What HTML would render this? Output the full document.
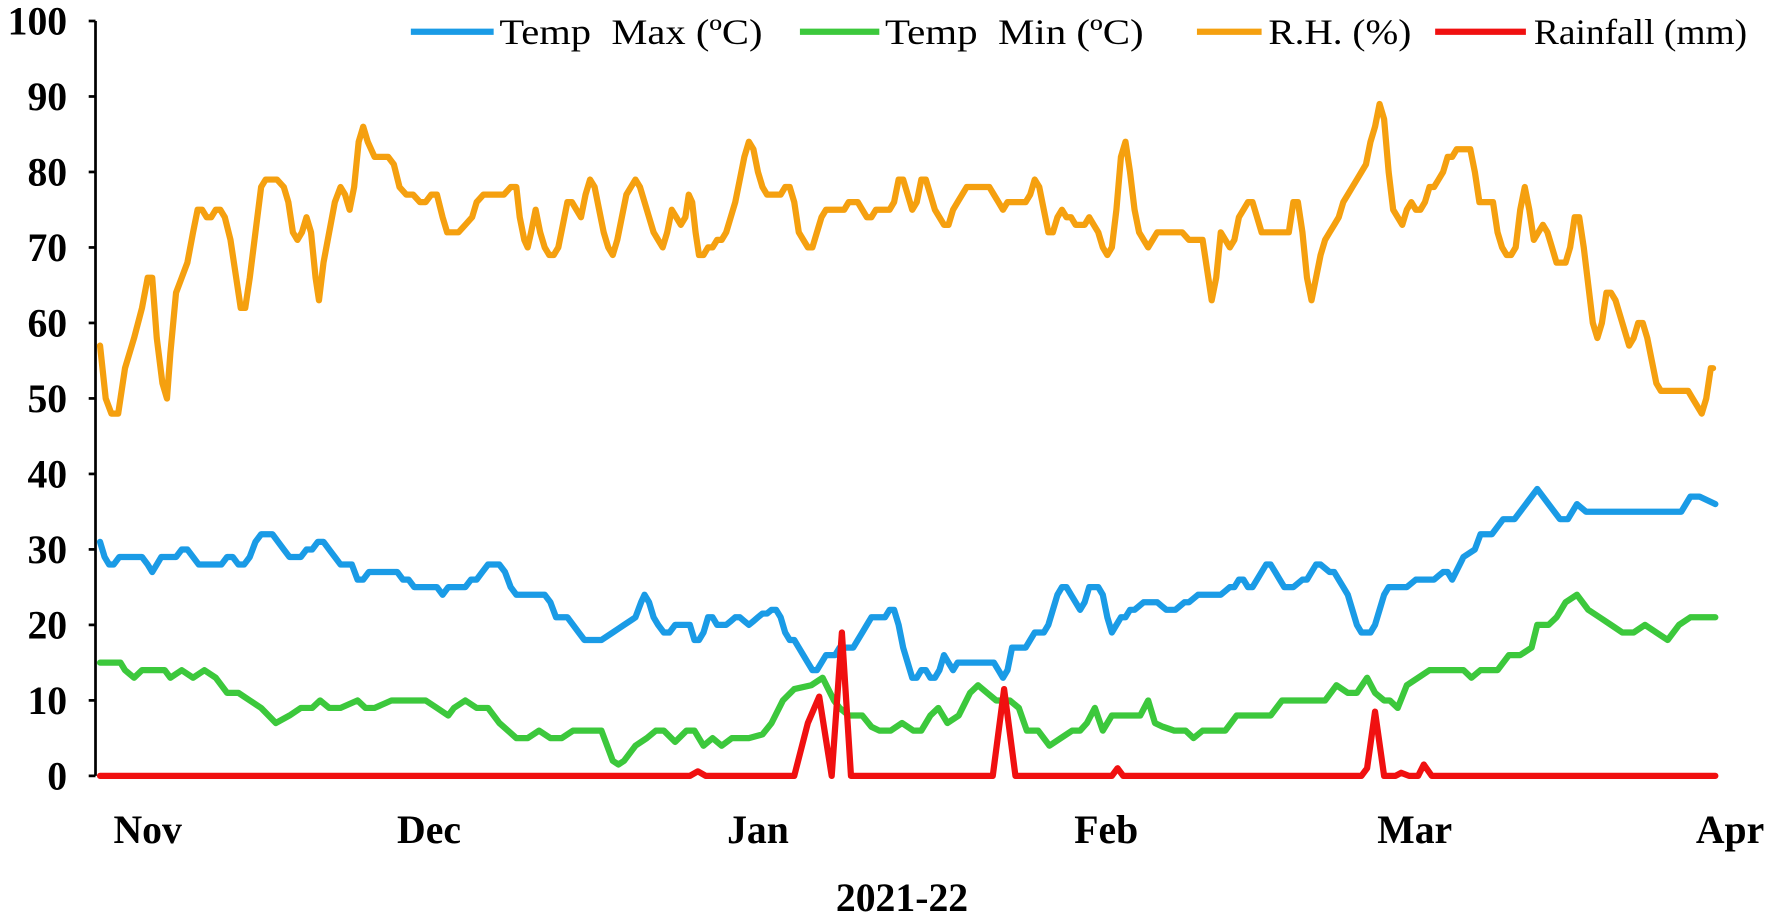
<!DOCTYPE html>
<html><head><meta charset="utf-8"><style>
html,body{margin:0;padding:0;background:#fff;}
svg{display:block;}
text{font-family:"Liberation Serif",serif;fill:#000;}
</style></head><body>
<svg id="c" width="1770" height="912" viewBox="0 0 1560 804" xmlns="http://www.w3.org/2000/svg">
<g id="axes" stroke="#000" stroke-width="2.4" fill="none">
<line x1="84" y1="18.5" x2="84" y2="684"/>
</g>
<g font-size="35" font-weight="bold" text-anchor="end" id="ylab"></g>
<g font-size="35" font-weight="bold" text-anchor="middle">
<text x="130" y="743">Nov</text>
<text x="378" y="743">Dec</text>
<text x="668" y="743">Jan</text>
<text x="975" y="743">Feb</text>
<text x="1247" y="743">Mar</text>
<text x="1525" y="743">Apr</text>
<text x="795" y="803">2021-22</text>
</g>
<g id="series" fill="none" stroke-width="5.5" stroke-linejoin="round" stroke-linecap="round"></g>
<g font-size="32">
<line x1="362" y1="28" x2="435" y2="28" stroke="#1a9be6" stroke-width="5.5"/>
<text x="440" y="39" xml:space="preserve" textLength="232" lengthAdjust="spacingAndGlyphs">Temp  Max (ºC)</text>
<line x1="705" y1="28" x2="775" y2="28" stroke="#3cc83c" stroke-width="5.5"/>
<text x="780" y="39" xml:space="preserve" textLength="228" lengthAdjust="spacingAndGlyphs">Temp  Min (ºC)</text>
<line x1="1055" y1="28" x2="1112" y2="28" stroke="#f5a00f" stroke-width="5.5"/>
<text x="1118" y="39" textLength="126" lengthAdjust="spacingAndGlyphs">R.H. (%)</text>
<line x1="1265" y1="28" x2="1345" y2="28" stroke="#f01010" stroke-width="5.5"/>
<text x="1352" y="39" textLength="188" lengthAdjust="spacingAndGlyphs">Rainfall (mm)</text>
</g>
</svg>
<script>
var Y0=684,S=6.655;
function y(v){return Y0-v*S;}
var ns="http://www.w3.org/2000/svg";
var ax=document.getElementById("axes"),yl=document.getElementById("ylab");
for(var i=0;i<=10;i++){var yy=y(i*10);
var l=document.createElementNS(ns,"line");l.setAttribute("x1",78);l.setAttribute("x2",84);l.setAttribute("y1",yy);l.setAttribute("y2",yy);ax.appendChild(l);
var t=document.createElementNS(ns,"text");t.setAttribute("x",59);t.setAttribute("y",yy+12);t.textContent=i*10;yl.appendChild(t);}
function P(a,c){var d="";for(var i=0;i<a.length;i+=2)d+=(i?"L":"M")+a[i]+" "+y(a[i+1]).toFixed(1);
var p=document.createElementNS(ns,"path");p.setAttribute("d",d);p.setAttribute("stroke",c);document.getElementById("series").appendChild(p);}
var rh=[88,57,93,50,98,48,104,48,110,54,118,58,125,62,130,66,134,66,138,58,143,52,147,50,150,56,155,64,160,66,165,68,170,72,174,75,178,75,182,74,186,74,190,75,194,75,198,74,203,71,208,66,212,62,216,62,220,66,225,72,230,78,234,79,238,79,244,79,250,78,254,76,258,72,262,71,266,72,270,74,274,72,278,66,281,63,285,68,290,72,295,76,300,78,304,77,308,75,312,78,316,84,320,86,324,84,330,82,336,82,342,82,347,81,352,78,358,77,364,77,370,76,375,76,380,77,385,77,390,74,394,72,398,72,404,72,410,73,416,74,420,76,426,77,432,77,438,77,444,77,450,78,455,78,458,74,462,71,465,70,468,72,472,75,476,72,480,70,484,69,488,69,492,70,496,73,500,76,504,76,508,75,512,74,516,77,520,79,524,78,528,75,532,72,536,70,540,69,544,71,548,74,552,77,556,78,560,79,564,78,568,76,572,74,576,72,580,71,584,70,588,72,592,75,596,74,600,73,604,74,607,77,610,76,613,72,616,69,620,69,624,70,628,70,632,71,636,71,640,72,644,74,648,76,652,79,656,82,660,84,664,83,668,80,672,78,676,77,680,77,684,77,688,77,692,78,696,78,700,76,704,72,708,71,712,70,716,70,720,72,724,74,728,75,732,75,736,75,740,75,744,75,748,76,752,76,756,76,760,75,764,74,768,74,772,75,776,75,780,75,784,75,788,76,792,79,796,79,800,77,804,75,808,76,812,79,816,79,820,77,824,75,828,74,832,73,836,73,840,75,844,76,848,77,852,78,856,78,860,78,864,78,868,78,872,78,876,77,880,76,884,75,888,76,892,76,896,76,900,76,904,76,908,77,912,79,916,78,920,75,924,72,928,72,932,74,936,75,940,74,944,74,948,73,952,73,956,73,960,74,964,73,968,72,972,70,976,69,980,70,984,75,988,82,992,84,996,80,1000,75,1004,72,1008,71,1012,70,1016,71,1020,72,1024,72,1030,72,1036,72,1042,72,1048,71,1052,71,1056,71,1060,71,1064,67,1068,63,1072,66,1076,72,1080,71,1084,70,1088,71,1092,74,1096,75,1100,76,1104,76,1108,74,1112,72,1116,72,1120,72,1124,72,1128,72,1132,72,1136,72,1140,76,1144,76,1148,72,1152,66,1156,63,1160,66,1164,69,1168,71,1172,72,1176,73,1180,74,1184,76,1188,77,1192,78,1196,79,1200,80,1204,81,1208,84,1212,86,1216,89,1220,87,1224,80,1228,75,1232,74,1236,73,1240,75,1244,76,1248,75,1252,75,1256,76,1260,78,1264,78,1268,79,1272,80,1276,82,1280,82,1284,83,1288,83,1292,83,1296,83,1300,80,1304,76,1308,76,1312,76,1316,76,1320,72,1324,70,1328,69,1332,69,1336,70,1340,75,1344,78,1348,75,1352,71,1356,72,1360,73,1364,72,1368,70,1372,68,1376,68,1380,68,1384,70,1388,74,1392,74,1396,70,1400,65,1404,60,1408,58,1412,60,1416,64,1420,64,1424,63,1428,61,1432,59,1436,57,1440,58,1444,60,1448,60,1452,58,1456,55,1460,52,1464,51,1468,51,1472,51,1476,51,1480,51,1484,51,1488,51,1492,50,1496,49,1500,48,1504,50,1508,54,1510,54];
var tmax=[88,31,92,29,96,28,100,28,105,29,110,29,115,29,120,29,125,29,130,28,134,27,138,28,142,29,146,29,150,29,155,29,160,30,165,30,170,29,175,28,180,28,185,28,190,28,195,28,200,29,205,29,210,28,215,28,220,29,225,31,230,32,235,32,240,32,245,31,250,30,255,29,260,29,265,29,270,30,275,30,280,31,285,31,290,30,295,29,300,28,305,28,310,28,315,26,320,26,325,27,330,27,335,27,340,27,345,27,350,27,355,26,360,26,365,25,370,25,375,25,380,25,385,25,390,24,395,25,400,25,405,25,410,25,415,26,420,26,425,27,430,28,435,28,440,28,445,27,450,25,455,24,460,24,465,24,470,24,475,24,480,24,485,23,490,21,495,21,500,21,505,20,510,19,515,18,520,18,525,18,530,18,535,18.5,540,19,545,19.5,550,20,555,20.5,560,21,565,23,568,24,572,23,576,21,580,20,585,19,590,19,595,20,600,20,605,20,608,20,612,18,616,18,620,19,624,21,628,21,632,20,636,20,640,20,644,20.5,648,21,652,21,656,20.5,660,20,664,20.5,668,21,672,21.5,676,21.5,680,22,684,22,688,21,692,19,696,18,700,18,704,17,708,16,712,15,716,14,720,14,724,15,728,16,732,16,736,16,740,17,744,17,748,17,752,17,756,18,760,19,764,20,768,21,772,21,776,21,780,21,784,22,788,22,792,20,796,17,800,15,804,13,808,13,812,14,816,14,820,13,824,13,828,14,832,16,836,15,840,14,844,15,848,15,852,15,856,15,860,15,864,15,868,15,872,15,876,15,880,14,884,13,888,14,892,17,896,17,900,17,904,17,908,18,912,19,916,19,920,19,924,20,928,22,932,24,936,25,940,25,944,24,948,23,952,22,956,23,960,25,964,25,968,25,972,24,976,21,980,19,984,20,988,21,992,21,996,22,1000,22,1004,22.5,1008,23,1012,23,1016,23,1020,23,1024,22.5,1028,22,1032,22,1036,22,1040,22.5,1044,23,1048,23,1052,23.5,1056,24,1060,24,1064,24,1068,24,1072,24,1076,24,1080,24.5,1084,25,1088,25,1092,26,1096,26,1100,25,1104,25,1108,26,1112,27,1116,28,1120,28,1124,27,1128,26,1132,25,1136,25,1140,25,1144,25.5,1148,26,1152,26,1156,27,1160,28,1164,28,1168,27.5,1172,27,1176,27,1180,26,1184,25,1188,24,1192,22,1196,20,1200,19,1204,19,1208,19,1212,20,1216,22,1220,24,1224,25,1228,25,1232,25,1236,25,1240,25,1244,25.5,1248,26,1252,26,1256,26,1260,26,1264,26,1268,26.5,1272,27,1276,27,1280,26,1290,29,1300,30,1305,32,1315,32,1325,34,1335,34,1345,36,1355,38,1365,36,1375,34,1382,34,1390,36,1398,35,1410,35,1440,35,1475,35,1482,35,1490,37,1498,37,1505,36.5,1512,36];
var tmin=[88,15,100,15,106,15,110,14,118,13,125,14,145,14,150,13,160,14,170,13,180,14,190,13,200,11,210,11,220,10,230,9,243,7,255,8,265,9,275,9,282,10,290,9,300,9,315,10,322,9,330,9,345,10,355,10,375,10,385,9,395,8,400,9,410,10,420,9,430,9,440,7,455,5,465,5,475,6,485,5,495,5,505,6,520,6,530,6,535,4,540,2,545,1.5,550,2,560,4,570,5,578,6,585,6,595,4.5,605,6,612,6,620,4,628,5,636,4,645,5,660,5,672,5.5,680,7,690,10,700,11.5,715,12,725,13,735,10,740,9,748,8,760,8,768,6.5,775,6,785,6,795,7,805,6,812,6,820,8,827,9,835,7,845,8,855,11,862,12,870,11,878,10,890,10,898,9,905,6,915,6,925,4,935,5,945,6,952,6,958,7,965,9,972,6,980,8,990,8,997,8,1005,8,1012,10,1018,7,1025,6.5,1035,6,1045,6,1052,5,1060,6,1070,6,1080,6,1090,8,1100,8,1110,8,1120,8,1130,10,1145,10,1160,10,1168,10,1178,12,1188,11,1196,11,1205,13,1212,11,1220,10,1225,10,1232,9,1240,12,1250,13,1260,14,1270,14,1280,14,1290,14,1297,13,1305,14,1312,14,1320,14,1330,16,1340,16,1350,17,1355,20,1365,20,1372,21,1380,23,1390,24,1400,22,1410,21,1420,20,1430,19,1440,19,1450,20,1460,19,1470,18,1480,20,1490,21,1500,21,1512,21];
var rain=[88,0,608,0,615,0.6,622,0,700,0,712,7,722,10.5,733,0,742,19,750,0,875,0,885,11.5,895,0,980,0,985,1,990,0,1200,0,1205,1,1212,8.5,1220,0,1230,0,1235,0.4,1242,0,1250,0,1255,1.5,1262,0,1512,0];
P(rh,"#f5a00f");P(tmax,"#1a9be6");P(tmin,"#3cc83c");P(rain,"#f01010");
</script>
</body></html>
